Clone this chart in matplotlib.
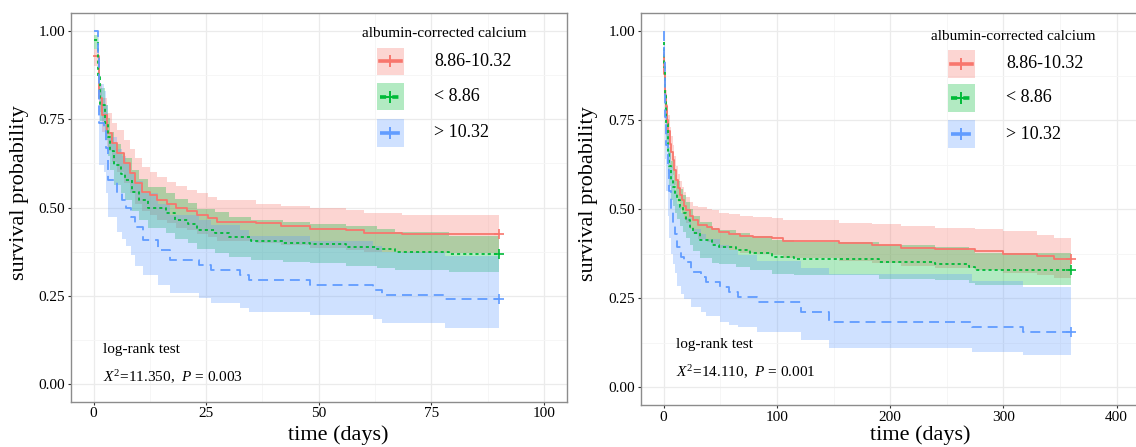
import numpy as np
import matplotlib
matplotlib.use("Agg")
import matplotlib.pyplot as plt
from matplotlib.patches import Rectangle
from matplotlib.lines import Line2D

plt.rcParams["font.family"] = ["Liberation Serif", "DejaVu Serif"]
plt.rcParams["mathtext.fontset"] = "custom"
plt.rcParams["mathtext.rm"] = "Liberation Serif"
plt.rcParams["mathtext.it"] = "Liberation Serif:italic"

# groups
groups = ["8.86-10.32", "< 8.86", "> 10.32"]
colors = ["#F8766D", "#00BA38", "#619CFF"]
legend_title = "albumin-corrected calcium"

# ---- 90-day follow-up (left) ----
red90_t = [0, 1.2, 1.9, 3.0, 4.1, 5.2, 6.7, 8.2, 9.3, 10.8, 12.6, 14.0, 16.3, 18.2, 20.8, 23.0, 25.5, 27.4, 36.0, 41.7, 48.0, 56.0, 60.0, 68.4, 90]
red90_s = [0.93, 0.81, 0.762, 0.711, 0.683, 0.654, 0.626, 0.597, 0.569, 0.545, 0.535, 0.521, 0.51, 0.498, 0.49, 0.478, 0.469, 0.46, 0.455, 0.448, 0.44, 0.436, 0.429, 0.424, 0.424]
red90_hi = [0.95, 0.85, 0.81, 0.767, 0.74, 0.72, 0.69, 0.665, 0.64, 0.615, 0.60, 0.587, 0.573, 0.56, 0.55, 0.54, 0.53, 0.52, 0.51, 0.505, 0.498, 0.493, 0.485, 0.479, 0.479]
red90_lo = [0.90, 0.77, 0.715, 0.66, 0.63, 0.60, 0.57, 0.54, 0.51, 0.49, 0.48, 0.465, 0.455, 0.443, 0.435, 0.425, 0.415, 0.405, 0.40, 0.395, 0.385, 0.38, 0.375, 0.37, 0.37]

green90_t = [0, 1.0, 1.5, 2.5, 3.2, 3.6, 4.5, 6.0, 7.0, 8.5, 10.2, 12.0, 16.0, 18.0, 21.0, 23.0, 27.0, 30.0, 35.0, 42.0, 48.0, 56.0, 63.0, 67.0, 79.0, 90]
green90_s = [0.975, 0.87, 0.79, 0.74, 0.70, 0.66, 0.62, 0.595, 0.578, 0.545, 0.521, 0.498, 0.483, 0.465, 0.453, 0.436, 0.427, 0.415, 0.406, 0.40, 0.396, 0.389, 0.381, 0.375, 0.367, 0.367]
green90_hi = [0.99, 0.91, 0.84, 0.79, 0.755, 0.715, 0.68, 0.655, 0.64, 0.605, 0.58, 0.558, 0.542, 0.525, 0.512, 0.495, 0.486, 0.474, 0.465, 0.458, 0.454, 0.447, 0.438, 0.43, 0.418, 0.418]
green90_lo = [0.95, 0.83, 0.745, 0.69, 0.645, 0.605, 0.565, 0.54, 0.52, 0.49, 0.465, 0.443, 0.428, 0.41, 0.398, 0.382, 0.372, 0.36, 0.352, 0.346, 0.342, 0.335, 0.328, 0.322, 0.318, 0.318]

blue90_t = [0, 1.0, 1.2, 2.4, 2.8, 3.3, 5.3, 6.3, 7.3, 8.3, 9.3, 11.0, 14.3, 17.0, 23.5, 26.0, 32.5, 34.5, 48.0, 62.0, 64.0, 78.0, 90]
blue90_s = [1.0, 0.93, 0.74, 0.72, 0.67, 0.578, 0.54, 0.52, 0.50, 0.474, 0.446, 0.408, 0.38, 0.351, 0.337, 0.323, 0.309, 0.295, 0.28, 0.266, 0.252, 0.24, 0.24]
blue90_hi = [1.0, 0.99, 0.85, 0.83, 0.79, 0.70, 0.665, 0.645, 0.625, 0.60, 0.575, 0.54, 0.51, 0.48, 0.465, 0.45, 0.435, 0.42, 0.405, 0.39, 0.375, 0.362, 0.362]
blue90_lo = [1.0, 0.85, 0.62, 0.60, 0.54, 0.474, 0.43, 0.41, 0.39, 0.365, 0.335, 0.309, 0.28, 0.257, 0.243, 0.228, 0.215, 0.205, 0.195, 0.185, 0.172, 0.158, 0.158]

# ---- 360-day follow-up (right) ----
red360_t = [0, 0.7, 1.3, 2.0, 3.0, 4.0, 5.3, 6.5, 8.2, 9.5, 11.2, 12.5, 14, 16, 18, 20, 23, 26, 30, 38, 43, 49, 58, 67, 79, 96, 105, 155, 184, 210, 240, 275, 300, 330, 345, 360]
red360_s = [0.94, 0.88, 0.82, 0.79, 0.75, 0.72, 0.684, 0.66, 0.638, 0.61, 0.581, 0.56, 0.539, 0.525, 0.51, 0.497, 0.482, 0.469, 0.455, 0.45, 0.445, 0.436, 0.431, 0.424, 0.421, 0.419, 0.411, 0.404, 0.399, 0.392, 0.387, 0.383, 0.375, 0.368, 0.361, 0.361]
red360_hi = [0.97, 0.93, 0.87, 0.835, 0.795, 0.765, 0.73, 0.705, 0.68, 0.65, 0.62, 0.60, 0.578, 0.563, 0.548, 0.535, 0.52, 0.51, 0.505, 0.50, 0.497, 0.49, 0.487, 0.482, 0.477, 0.475, 0.469, 0.462, 0.458, 0.452, 0.448, 0.443, 0.438, 0.428, 0.418, 0.418]
red360_lo = [0.91, 0.84, 0.775, 0.745, 0.705, 0.675, 0.64, 0.615, 0.595, 0.568, 0.54, 0.52, 0.50, 0.487, 0.472, 0.46, 0.445, 0.43, 0.415, 0.408, 0.402, 0.392, 0.386, 0.378, 0.373, 0.37, 0.362, 0.354, 0.348, 0.341, 0.335, 0.33, 0.322, 0.314, 0.306, 0.306]

green360_t = [0, 0.7, 1.5, 2.5, 3.8, 5.0, 6.8, 8.0, 9.7, 12, 14, 17, 20, 23, 26, 32, 43, 49, 64, 76, 96, 115, 190, 240, 270, 275, 360]
green360_s = [0.97, 0.90, 0.82, 0.74, 0.656, 0.62, 0.581, 0.562, 0.544, 0.525, 0.506, 0.488, 0.469, 0.45, 0.432, 0.413, 0.399, 0.394, 0.385, 0.376, 0.366, 0.361, 0.352, 0.347, 0.338, 0.33, 0.33]
green360_hi = [0.99, 0.94, 0.87, 0.79, 0.71, 0.675, 0.635, 0.615, 0.597, 0.578, 0.558, 0.54, 0.52, 0.50, 0.482, 0.463, 0.448, 0.442, 0.433, 0.424, 0.414, 0.409, 0.40, 0.395, 0.386, 0.378, 0.378]
green360_lo = [0.94, 0.85, 0.77, 0.69, 0.60, 0.565, 0.527, 0.508, 0.49, 0.472, 0.454, 0.436, 0.418, 0.40, 0.382, 0.364, 0.35, 0.345, 0.337, 0.328, 0.318, 0.315, 0.305, 0.30, 0.292, 0.287, 0.287]

blue360_t = [0, 0.5, 1.0, 1.6, 2.5, 3.5, 5.0, 6.5, 8.0, 10, 12, 15, 18, 24, 33, 37, 50, 58, 66, 82, 121, 146, 272, 317, 360]
blue360_s = [1.0, 0.92, 0.84, 0.76, 0.68, 0.61, 0.55, 0.50, 0.46, 0.43, 0.394, 0.366, 0.352, 0.324, 0.31, 0.296, 0.282, 0.268, 0.254, 0.24, 0.212, 0.184, 0.168, 0.155, 0.155]
blue360_hi = [1.0, 0.97, 0.91, 0.85, 0.78, 0.72, 0.665, 0.62, 0.58, 0.55, 0.515, 0.49, 0.475, 0.445, 0.43, 0.415, 0.40, 0.385, 0.37, 0.355, 0.335, 0.319, 0.298, 0.282, 0.265]
blue360_lo = [1.0, 0.85, 0.73, 0.64, 0.55, 0.48, 0.42, 0.375, 0.345, 0.32, 0.285, 0.262, 0.248, 0.225, 0.21, 0.20, 0.184, 0.175, 0.168, 0.155, 0.132, 0.109, 0.099, 0.09, 0.09]

stats90 = ("11.350", "0.003")
stats360 = ("14.110", "0.001")

linestyles = ["-", (0, (1.7, 1.7)), (0, (5.5, 3.3))]


def draw_panel(ax, curves, xmax, xstep, stats, txt_x, txt_y):
    for (t, s, lo, hi), col in zip(curves, colors):
        ax.fill_between(t, lo, hi, step="post", color=col, alpha=0.3, lw=0, zorder=2)
    for (t, s, lo, hi), col, ls in zip(curves, colors, linestyles):
        ax.step(t, s, where="post", color=col, lw=1.3, ls=ls, zorder=3)
        ax.plot(t[-1], s[-1], marker="+", ms=7, mew=1.2, color=col, zorder=4)

    ax.set_xlim(-0.05 * xmax, 1.05 * xmax)
    ax.set_ylim(-0.05, 1.05)
    ax.set_xticks(np.arange(0, xmax + 1, xstep))
    ax.set_xticks(np.arange(xstep / 2, xmax, xstep), minor=True)
    ax.set_yticks([0, 0.25, 0.5, 0.75, 1.0])
    ax.set_yticks([0.125, 0.375, 0.625, 0.875], minor=True)
    ax.set_yticklabels(["0.00", "0.25", "0.50", "0.75", "1.00"])
    ax.tick_params(which="major", length=2.5, width=0.8, color="#333333",
                   labelsize=11, pad=1.5, labelcolor="black")
    ax.tick_params(which="minor", length=0)
    ax.grid(which="major", color="#EBEBEB", lw=0.9, zorder=0)
    ax.grid(which="minor", color="#F5F5F5", lw=0.6, zorder=0)
    ax.set_axisbelow(True)
    for sp in ax.spines.values():
        sp.set_color("#8C8C8C")
        sp.set_linewidth(1.0)

    ax.set_ylabel("survival probability", fontsize=16)
    ax.set_xlabel("time (days)", fontsize=16)

    ax.text(txt_x, txt_y[0], "log-rank test", fontsize=11, va="center")
    ax.text(txt_x, txt_y[1], r"$\mathit{X}^2$=" + stats[0] + r",  $\mathit{P}$ = " + stats[1],
            fontsize=11, va="center")


def draw_legend(ax, title_xy, box_x, rows_y, label_x):
    ax.text(title_xy[0], title_xy[1], legend_title, transform=ax.transAxes,
            fontsize=11, ha="center", va="center")
    bw, bh = box_x[1] - box_x[0], 0.07
    for lab, col, ls, ry in zip(groups, colors, linestyles, rows_y):
        ax.add_patch(Rectangle((box_x[0], ry - bh / 2), bw, bh, transform=ax.transAxes,
                               facecolor=col, alpha=0.3, lw=0, zorder=5))
        ax.add_line(Line2D([box_x[0] + 0.12 * bw, box_x[1] - 0.12 * bw], [ry, ry],
                           transform=ax.transAxes, color=col, lw=2.6, ls=ls, zorder=6))
        ax.add_line(Line2D([(box_x[0] + box_x[1]) / 2], [ry], transform=ax.transAxes,
                           color=col, marker="+", ms=9, mew=1.4, zorder=6))
        ax.text(label_x, ry, lab, transform=ax.transAxes, fontsize=13, va="center")


fig = plt.figure(figsize=(11.36, 4.47), dpi=100)
ax1 = fig.add_axes([71 / 1136, 1 - 401.6 / 447, 495.5 / 1136, 388.2 / 447])
ax2 = fig.add_axes([641 / 1136, 1 - 405 / 447, 498.3 / 1136, 391.6 / 447])

curves90 = [(red90_t, red90_s, red90_lo, red90_hi),
            (green90_t, green90_s, green90_lo, green90_hi),
            (blue90_t, blue90_s, blue90_lo, blue90_hi)]
curves360 = [(red360_t, red360_s, red360_lo, red360_hi),
             (green360_t, green360_s, green360_lo, green360_hi),
             (blue360_t, blue360_s, blue360_lo, blue360_hi)]

draw_panel(ax1, curves90, 100, 25, stats90, 2.2, (0.099, 0.02))
draw_panel(ax2, curves360, 400, 100, stats360, 10.6, (0.121, 0.042))

draw_legend(ax1, (0.753, 0.9495), (0.6176, 0.672), (0.877, 0.785, 0.692), 0.7326)
draw_legend(ax2, (0.7465, 0.942), (0.616, 0.670), (0.871, 0.784, 0.692), 0.7325)

# label placement (axes fractions)
for ax, xl, xl_y, yl_x, yl_y in [(ax1, 0.539, -0.086, -0.103, 0.539),
                                 (ax2, 0.56, -0.077, -0.106, 0.54)]:
    ax.xaxis.set_label_coords(xl, xl_y)
    ax.xaxis.label.set_va("center")
    ax.yaxis.set_label_coords(yl_x, yl_y)
    ax.yaxis.label.set_va("center")

fig.savefig("out.png", dpi=100)
